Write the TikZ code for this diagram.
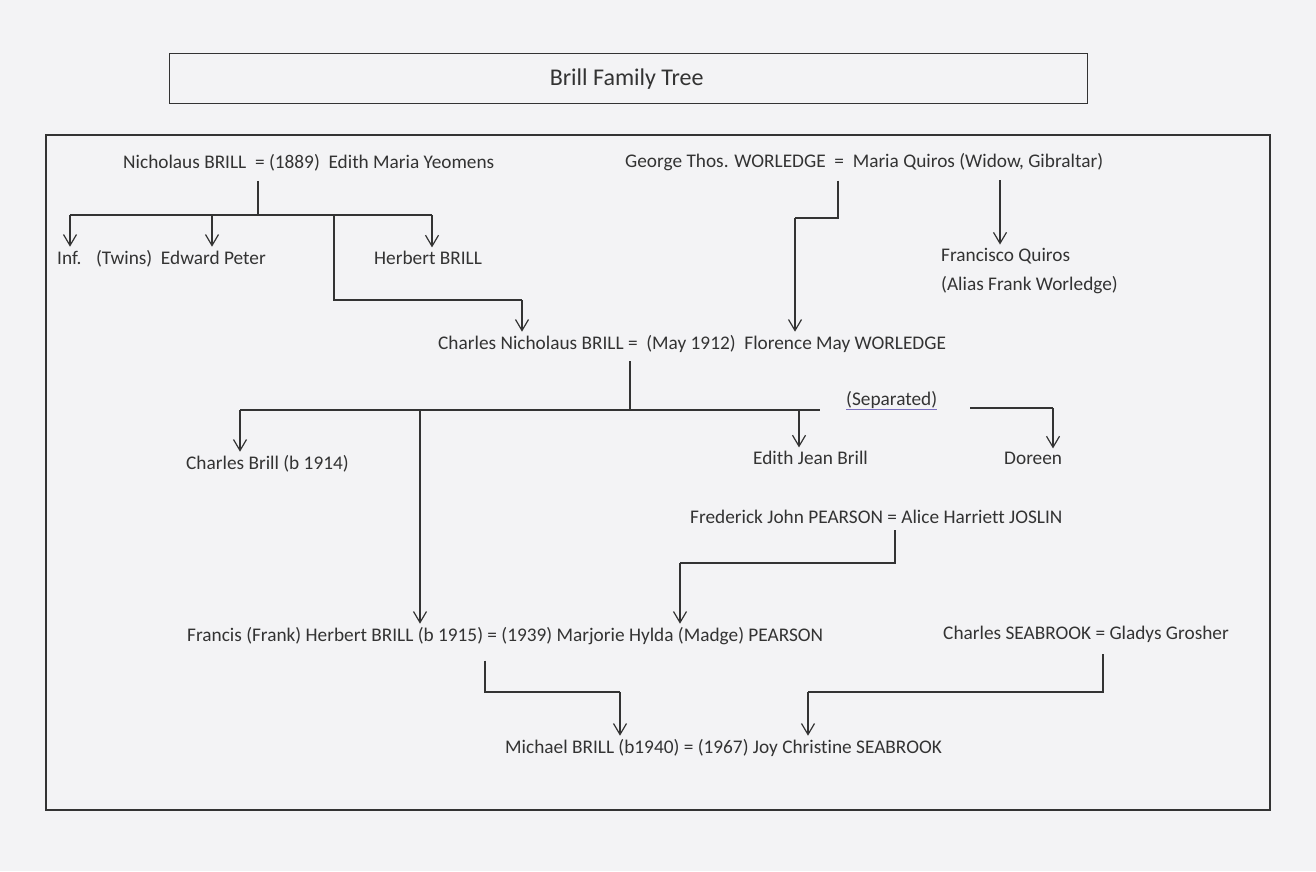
\documentclass[tikz,border=0pt]{standalone}
\usepackage{fontspec}
\setmainfont{Carlito}[Ligatures=NoCommon]
\usetikzlibrary{arrows.meta}
\definecolor{paper}{HTML}{F3F3F5}
\definecolor{ink}{HTML}{333333}
\definecolor{uline}{HTML}{7A6FC0}
\tikzset{
  txt/.style={anchor=base west, inner sep=0pt, text=ink, font=\fontsize{19.3}{22}\selectfont},
  ln/.style={draw=ink, line width=1.4pt},
  arr/.style={ln, -{Straight Barb[length=11pt,width=13pt,line width=1.2pt]}, shorten >=3pt},
  frame/.style={draw=ink, line width=1.4pt}
}
\begin{document}
\begin{tikzpicture}[x=1pt,y=-1pt]
\fill[paper] (0,0) rectangle (1316,871);
\useasboundingbox (0,0) rectangle (1316,871);
% title
\node[frame, minimum width=918pt, minimum height=50pt, anchor=north west, inner sep=0pt] (title) at (169,53) {};
\node[text=ink, font=\fontsize{24}{28}\selectfont] (ttext) at ([xshift=-2pt]title.center) {Brill Family Tree};
\draw[frame] (46,135) rectangle (1270,810);
% texts
\node[txt] (nb) at (123,168) {Nicholaus BRILL \ = (1889) \ Edith Maria Yeomens};
\node[txt] (gw) at (625,167) {George Thos. WORLEDGE \ = \ Maria Quiros (Widow, Gibraltar)};
\node[txt] (inf) at (57,264) {Inf. \ \ (Twins) \ Edward Peter};
\node[txt] (hb) at (374,264) {Herbert BRILL};
\node[txt] (fq) at (941,261) {Francisco Quiros};
\node[txt] (fw) at (941,290) {(Alias Frank Worledge)};
\node[txt] (cn) at (438,349) {Charles Nicholaus BRILL = \ (May 1912) \ Florence May WORLEDGE};
\node[txt] (sep) at (846,405) {(Separated)};
\node[txt] (cb) at (186,469) {Charles Brill (b 1914)};
\node[txt] (ej) at (753,464) {Edith Jean Brill};
\node[txt] (dor) at (1004,464) {Doreen};
\node[txt] (fp) at (690,523) {Frederick John PEARSON = Alice Harriett JOSLIN};
\node[txt] (ff) at (187,641) {Francis (Frank) Herbert BRILL (b 1915) = (1939) Marjorie Hylda (Madge) PEARSON};
\node[txt] (cs) at (943,639) {Charles SEABROOK = Gladys Grosher};
\node[txt] (mb) at (505,753) {Michael BRILL (b1940) = (1967) Joy Christine SEABROOK};
\draw[uline, line width=1pt] (sep.base west) ++(0,4) coordinate (u1) -- (sep.base east |- u1);
% junction coordinates
\coordinate (j1) at (258,215);
\coordinate (j1l) at (70,215);
\coordinate (j1e) at (212,215);
\coordinate (j1h) at (432,215);
\coordinate (j1c) at (334,215);
\coordinate (j1c2) at (334,300);
\coordinate (j1c3) at (522,300);
\coordinate (j2) at (838,218);
\coordinate (j2b) at (795,218);
\coordinate (j3) at (630,410);
\coordinate (j3l) at (240,410);
\coordinate (j3f) at (420,410);
\coordinate (j3e) at (799,410);
\coordinate (j3r) at (820,410);
\coordinate (j4a) at (970,408);
\coordinate (j4b) at (1053,408);
\coordinate (j5) at (895,563);
\coordinate (j5b) at (680,563);
\coordinate (j6) at (485,692);
\coordinate (j6b) at (620,692);
\coordinate (j7) at (1103,692);
\coordinate (j7b) at (808,692);
% Nicholaus family
\draw[ln] (nb.south -| j1) ++(0,10) -- (j1);
\draw[ln] (j1l) -- (j1h);
\draw[arr] (j1l) -- (j1l |- inf.north);
\draw[arr] (j1e) -- (j1e |- inf.north);
\draw[arr] (j1h) -- (j1h |- hb.north);
\draw[ln] (j1c) -- (j1c2) -- (j1c3);
\draw[arr] (j1c3) -- (j1c3 |- cn.north);
% Worledge family
\draw[ln] (gw.south -| j2) ++(0,10) -- (j2) -- (j2b);
\draw[arr] (j2b) -- (j2b |- cn.north);
\coordinate (fqa) at (1000,180);
\draw[arr] (fqa) -- (fqa |- fq.north);
% Charles Nicholaus children
\draw[ln] (cn.south -| j3) ++(0,9) -- (j3);
\draw[ln] (j3l) -- (j3r);
\draw[arr] (j3l) -- (j3l |- cb.north);
\draw[arr] (j3f) -- (j3f |- ff.north);
\draw[arr] (j3e) -- (j3e |- ej.north);
\draw[ln] (j4a) -- (j4b);
\draw[arr] (j4b) -- (j4b |- dor.north);
% Pearson
\draw[ln] (fp.south -| j5) ++(0,7) -- (j5) -- (j5b);
\draw[arr] (j5b) -- (j5b |- ff.north);
% Michael
\draw[ln] (ff.south -| j6) ++(0,16) -- (j6) -- (j6b);
\draw[arr] (j6b) -- (j6b |- mb.north);
\draw[ln] (cs.south -| j7) ++(0,12) -- (j7) -- (j7b);
\draw[arr] (j7b) -- (j7b |- mb.north);
\end{tikzpicture}
\end{document}
